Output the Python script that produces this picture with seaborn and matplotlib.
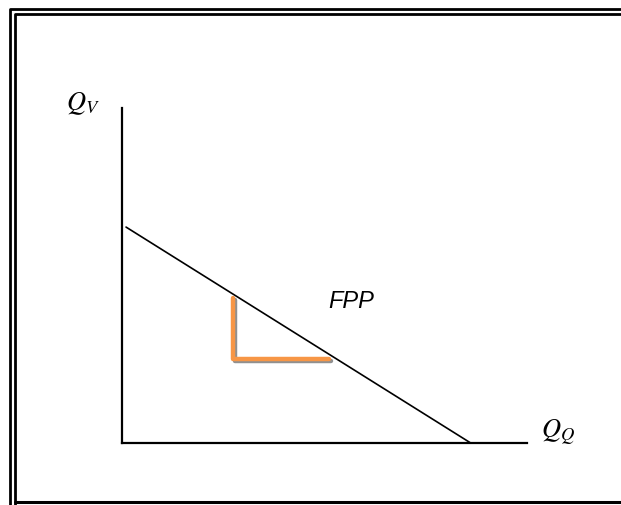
import numpy as np
import pandas as pd
import seaborn as sns
import matplotlib.pyplot as plt
import matplotlib.patheffects as pe
from matplotlib.lines import Line2D

# chart values (axis units 0..100)
fpp_x = [1.0, 85.9]
fpp_y = [64.4, 0.0]
step_x = [27.4, 27.4, 51.1]
step_y = [43.2, 25.0, 25.0]
fpp_label = "FPP"
fpp_label_pos = (50.9, 42.6)
y_label = r"$Q_V$"
x_label = r"$Q_Q$"

sns.set_style("white")
plt.rcParams["mathtext.fontset"] = "stix"
plt.rcParams["text.color"] = "black"

W, H = 621, 506
fig = plt.figure(figsize=(W / 100, H / 100), dpi=100)
fig.set_facecolor("white")

# double frame round the picture
for off, lw in [(10, 2.0), (15, 2.0)]:
    xs = [(W + 20) / W, off / W, off / W, (W + 20) / W]
    ys = [1 - off / H, 1 - off / H, -0.1, -0.1]
    fig.add_artist(Line2D(xs, ys, color="black", lw=lw, transform=fig.transFigure))
fig.add_artist(Line2D([15 / W, 1.05], [1 - 503 / H] * 2, color="black", lw=2.2,
                      transform=fig.transFigure))

ax = fig.add_axes([122 / W, (H - 443.5) / H, 405 / W, (443.5 - 109) / H])
ax.set_xlim(0, 100)
ax.set_ylim(0, 100)
ax.set_xticks([])
ax.set_yticks([])
for s in ["top", "right"]:
    ax.spines[s].set_visible(False)
for s in ["left", "bottom"]:
    ax.spines[s].set_color("black")
    ax.spines[s].set_linewidth(1.6)

line_df = pd.DataFrame({"x": fpp_x, "y": fpp_y})
sns.lineplot(data=line_df, x="x", y="y", color="black", lw=1.2, ax=ax,
             sort=False, estimator=None)

step_df = pd.DataFrame({"x": step_x, "y": step_y})
sns.lineplot(data=step_df, x="x", y="y", color="#F79646", lw=3.2, ax=ax,
             sort=False, estimator=None,
             path_effects=[pe.SimpleLineShadow(offset=(1.8, -1.8), shadow_color="#909090",
                                               alpha=1.0, rho=1.0), pe.Normal()])

ax.text(*fpp_label_pos, fpp_label, fontsize=17, fontstyle="italic", color="black",
        family="Liberation Sans", ha="left", va="center")
ax.set_xlabel("")
ax.set_ylabel("")
ax.text(-9.6, 101.5, y_label, fontsize=19, color="black", ha="center", va="center",
        clip_on=False)
ax.text(103.5, 3.3, x_label, fontsize=19, color="black", ha="left", va="center",
        clip_on=False)

fig.savefig("out.png", dpi=100)
